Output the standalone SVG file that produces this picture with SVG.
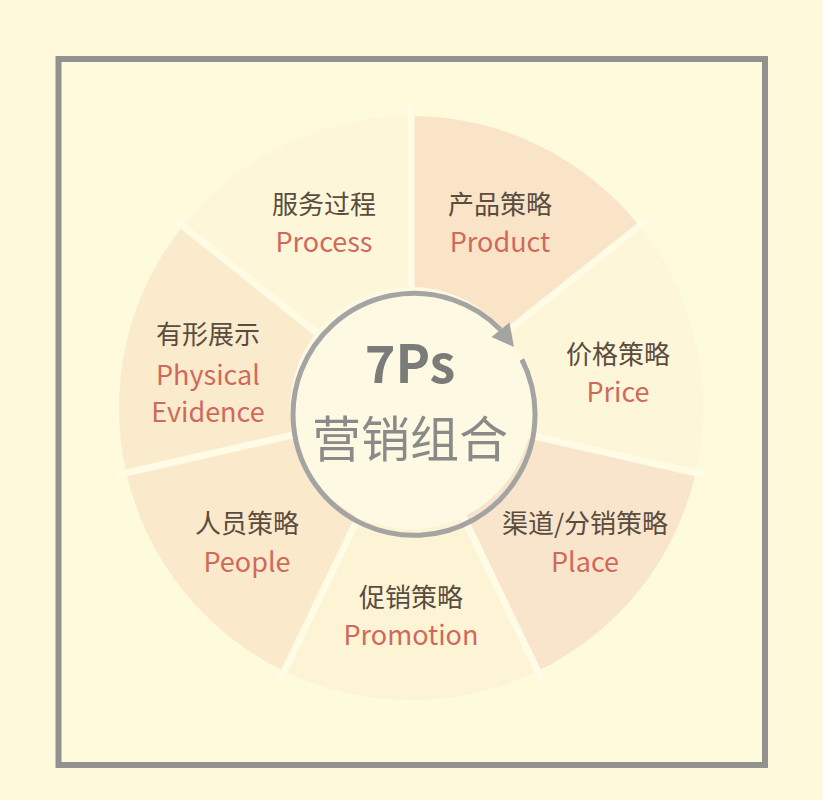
<svg xmlns="http://www.w3.org/2000/svg" width="823" height="800" viewBox="0 0 823 800">
<style>
.zh{font-family:"Noto Sans CJK SC","Noto Sans",sans-serif;font-size:26px;fill:#5a4c3e;text-anchor:middle}
.en{font-family:"Noto Sans CJK SC","Noto Sans",sans-serif;font-size:27px;fill:#cf6a5b;text-anchor:middle}
.gap{stroke:#fffbe4;stroke-width:7;stroke-linecap:butt}
</style>
<rect x="0" y="0" width="823" height="800" fill="#fdf9da"/>
<rect x="58.5" y="59" width="706.5" height="706" fill="#fefadc" stroke="#929291" stroke-width="6"/>

<g id="product"><path d="M411 408 L411 116 A292 292 0 0 1 639.3 225.9 Z" fill="#f9e4c8"/>
<text class="zh" x="500" y="214">产品策略</text><text class="en" x="500" y="252">Product</text></g>
<g id="price"><path d="M411 408 L639.3 225.9 A292 292 0 0 1 695.7 473 Z" fill="#fdf6d8"/>
<text class="zh" x="618" y="364">价格策略</text><text class="en" x="618" y="402">Price</text></g>
<g id="place"><path d="M411 408 L695.7 473 A292 292 0 0 1 537.7 671.1 Z" fill="#f9e5cb"/>
<text class="zh" x="585" y="533">渠道/分销策略</text><text class="en" x="585" y="572">Place</text></g>
<g id="promotion"><path d="M411 408 L537.7 671.1 A292 292 0 0 1 284.3 671.1 Z" fill="#fdf4d6"/>
<text class="zh" x="411" y="607">促销策略</text><text class="en" x="411" y="645">Promotion</text></g>
<g id="people"><path d="M411 408 L284.3 671.1 A292 292 0 0 1 126.3 473 Z" fill="#fae9ca"/>
<text class="zh" x="247" y="533">人员策略</text><text class="en" x="247" y="572">People</text></g>
<g id="physical-evidence"><path d="M411 408 L126.3 473 A292 292 0 0 1 182.7 225.9 Z" fill="#fbebcd"/>
<text class="zh" x="208" y="344">有形展示</text><text class="en" x="208" y="385">Physical</text><text class="en" x="208" y="422">Evidence</text></g>
<g id="process"><path d="M411 408 L182.7 225.9 A292 292 0 0 1 411 116 Z" fill="#fdf6d9"/>
<text class="zh" x="324" y="214">服务过程</text><text class="en" x="324" y="252">Process</text></g>

<g id="gaps">
<line class="gap" x1="411" y1="408" x2="411" y2="105"/>
<line class="gap" x1="411" y1="408" x2="647.1" y2="219.7"/>
<line class="gap" x1="411" y1="408" x2="705.5" y2="475.2"/>
<line class="gap" x1="411" y1="408" x2="542" y2="680.1"/>
<line class="gap" x1="411" y1="408" x2="280" y2="680.1"/>
<line class="gap" x1="411" y1="408" x2="116.5" y2="475.2"/>
<line class="gap" x1="411" y1="408" x2="174.9" y2="219.7"/>
</g>

<g id="center">
<circle cx="411" cy="408" r="121" fill="#fdf9e3"/>
<text x="410" y="383" font-family="'Noto Sans CJK SC','Noto Sans',sans-serif" font-size="52" font-weight="bold" fill="#7b7b79" text-anchor="middle">7Ps</text>
<text x="410" y="457" font-family="'Noto Sans CJK SC','Noto Sans',sans-serif" font-size="49" fill="#8a8a88" text-anchor="middle">营销组合</text>
</g>

<g id="connectors">
<path d="M521.9 359.5 A121 121 0 1 1 500.5 329.7" fill="none" stroke="#a4a4a3" stroke-width="5"/>
<polygon points="491.5,337 509.5,322.5 514,347" fill="#a4a4a3"/>
</g>
</svg>
